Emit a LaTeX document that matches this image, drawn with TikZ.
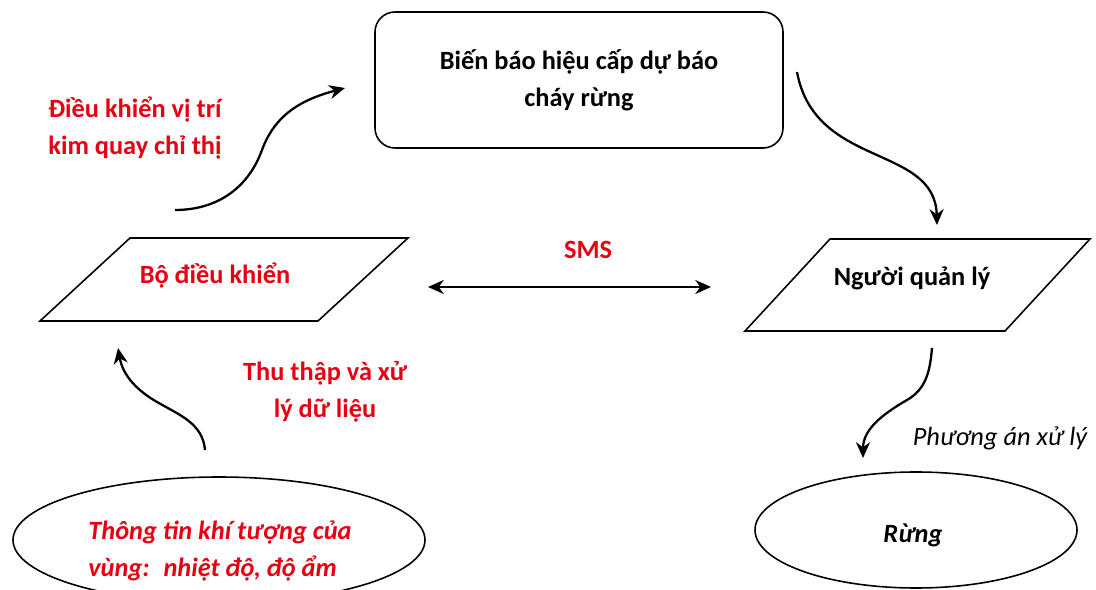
\documentclass[tikz,border=0pt]{standalone}
\usepackage{fontspec}
\setmainfont{Carlito}
\usetikzlibrary{arrows.meta}
\definecolor{lblred}{RGB}{230,0,18}

\begin{document}
\begin{tikzpicture}[>={Stealth[length=9pt,width=8pt]},
  shp/.style={line width=.9pt},
  arr/.style={->,line width=1.3pt},
  txt/.style={font=\fontsize{15}{21}\selectfont\bfseries,align=center},
  redtxt/.style={txt,text=lblred}]
\useasboundingbox (0,0) rectangle (21.92,11.78);
% bien bao
\node[draw,shp,rounded corners=.4cm,minimum width=8.16cm,minimum height=2.72cm,txt] (bien) at (11.58,10.18) {Biến báo hiệu cấp dự báo\\cháy rừng};
% bo dieu khien
\draw[shp] (.8,5.36)--(2.6,7.02)--(8.16,7.02)--(6.36,5.36)--cycle;
\node[redtxt] (bodk) at (4.3,6.26) {Bộ điều khiển};
% nguoi quan ly
\draw[shp] (14.9,5.16)--(16.6,7)--(21.8,7)--(20.1,5.16)--cycle;
\node[txt] (ql) at (18.24,6.22) {Người quản lý};
% khi tuong, rung
\draw[shp] (4.38,.98) ellipse (4.12 and 1.26);
\node[redtxt,font=\fontsize{15}{21}\selectfont\bfseries\itshape,align=left] (kt) at (4.4,.76) {Thông tin khí tượng của\\vùng:~ nhiệt độ, độ ẩm};
\draw[shp] (18.32,1.18) ellipse (3.22 and 1.16);
\node[txt,font=\fontsize{15}{21}\selectfont\bfseries\itshape] (rung) at (18.26,1.08) {Rừng};
% nhan
\node[redtxt,align=left] (dk) at (2.7,9.22) {Điều khiển vị trí\\kim quay chỉ thị};
\node[redtxt] (sms) at (11.76,6.78) {SMS};
\node[redtxt] (thu) at (6.5,3.94) {Thu thập và xử\\lý dữ liệu};
\node[font=\fontsize{15}{21}\selectfont\itshape] (pa) at (20.0,3.02) {Phương án xử lý};
% mui ten
\coordinate (a1) at (3.5,7.58); \coordinate (a2) at (5.24,8.78); \coordinate (a3) at (6.9,10.02);
\draw[arr] (a1) to[out=0,in=250] (a2) to[out=70,in=195] (a3);
\coordinate (b1) at (15.94,10.34); \coordinate (b2) at (18.74,7.28);
\draw[arr] (b1) .. controls (16.3,8.4) and (18.7,8.9) .. (b2);
\coordinate (c1) at (8.56,6.04); \coordinate (c2) at (14.22,6.04);
\draw[arr,<->] (c1) -- (c2);
\coordinate (d1) at (4.1,2.78); \coordinate (d2) at (3.14,3.74); \coordinate (d3) at (2.36,4.82);
\draw[arr] (d1) to[out=95,in=-30] (d2) to[out=150,in=-80] (d3);
\coordinate (e1) at (18.64,4.82); \coordinate (e2) at (18.14,3.78); \coordinate (e3) at (17.26,2.62);
\draw[arr] (e1) to[out=-95,in=30] (e2) to[out=210,in=90] (e3);
\end{tikzpicture}
\end{document}
